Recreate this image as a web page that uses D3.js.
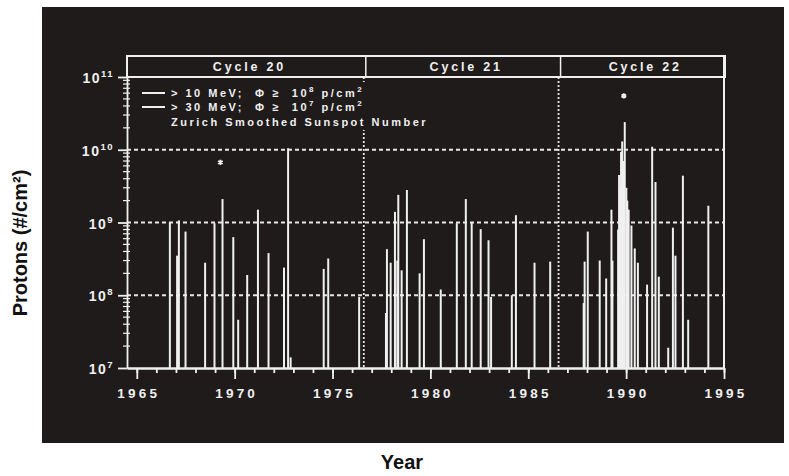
<!DOCTYPE html>
<html>
<head>
<meta charset="utf-8">
<script src="https://cdn.jsdelivr.net/npm/d3@7"></script>
<style>
  body { margin: 0; background: #fff; }
  text { font-family: "Liberation Sans", Arial, sans-serif; font-weight: bold; }
</style>
</head>
<body>
<div id="chart"></div>
<script>
// solar proton events (year, fluence in protons/cm2)
var eventYear = [1966.69, 1967.06, 1967.15, 1967.49, 1968.49, 1968.97, 1969.38, 1969.93, 1970.18, 1970.64,
                 1971.19, 1971.73, 1972.52, 1972.73, 1972.86, 1974.55, 1974.78, 1976.36,
                 1977.73, 1977.78, 1977.97, 1978.19, 1978.31, 1978.36, 1978.53, 1978.80, 1979.45, 1979.67,
                 1980.53, 1981.35, 1981.81, 1982.11, 1982.57, 1982.97, 1983.10, 1984.16, 1984.37, 1985.32, 1986.12,
                 1987.83, 1987.88, 1988.04, 1988.65, 1988.98, 1989.25, 1989.30, 1989.59, 1989.64, 1989.69,
                 1989.74, 1989.80, 1989.86, 1989.93, 1990.01, 1990.06, 1990.13, 1990.27, 1990.44, 1990.60,
                 1991.07, 1991.33, 1991.50, 1991.67, 1992.15, 1992.39, 1992.52, 1992.90, 1993.17, 1994.20];
var eventFluence = [1.0e9, 3.5e8, 1.07e9, 7.5e8, 2.8e8, 9.8e8, 2.1e9, 6.3e8, 4.6e7, 1.9e8,
                    1.5e9, 3.8e8, 2.4e8, 1.05e10, 1.4e7, 2.3e8, 3.2e8, 9.5e7,
                    5.7e7, 4.3e8, 2.8e8, 1.4e9, 3.0e8, 2.4e9, 2.2e8, 2.8e9, 2.0e8, 5.9e8,
                    1.2e8, 9.8e8, 2.1e9, 1.0e9, 8.1e8, 5.7e8, 9.5e7, 1.0e8, 1.26e9, 2.8e8, 2.9e8,
                    7.8e7, 2.9e8, 7.5e8, 3.0e8, 1.7e8, 1.5e9, 3.0e8, 8.0e8, 4.5e9, 2.8e9,
                    9.3e9, 1.3e10, 7.0e9, 2.4e10, 3.0e9, 2.0e9, 1.5e9, 9.1e8, 4.4e8, 2.8e8,
                    1.4e8, 1.1e10, 3.6e9, 1.8e8, 1.9e7, 8.5e8, 3.5e8, 4.4e9, 4.6e7, 1.7e9];

// asterisks above the cycles
var starYear = [1969.27, 1989.88];
var starFluence = [6.7e9, 5.5e10];

// solar cycles
var cycleNames = ["Cycle 20", "Cycle 21", "Cycle 22"];
var cycleBounds = [1964.5, 1976.7, 1986.65, 1995];

var xTicks = [1965, 1970, 1975, 1980, 1985, 1990, 1995];
var yTickExps = [7, 8, 9, 10, 11];
var gridExps = [8, 9, 10];

var W = 789, H = 476;
var ink = "#f0f0f0";

var svg = d3.select("#chart")
    .append("svg")
    .attr("width", W)
    .attr("height", H);

// black panel
svg.append("rect")
    .attr("x", 42).attr("y", 7)
    .attr("width", 742).attr("height", 436)
    .attr("fill", "#1f1b1b");

var x = d3.scaleLinear().domain([1964.5, 1995]).range([127, 724]);
var y = d3.scaleLog().domain([1e7, 1e11]).range([368, 77]);

// horizontal dashed grid
svg.selectAll(".grid")
    .data(gridExps)
    .enter()
    .append("line")
    .attr("x1", x(1964.5)).attr("x2", x(1995))
    .attr("y1", function (d) { return y(Math.pow(10, d)); })
    .attr("y2", function (d) { return y(Math.pow(10, d)); })
    .attr("stroke", "#e6e6e6")
    .attr("stroke-width", 1.8)
    .attr("stroke-dasharray", "4,3");

// dotted cycle boundaries
svg.selectAll(".cyc")
    .data(cycleBounds.slice(1, 3))
    .enter()
    .append("line")
    .attr("x1", function (d) { return x(d) - 2; })
    .attr("x2", function (d) { return x(d) - 2; })
    .attr("y1", y(1e11)).attr("y2", y(1e7))
    .attr("stroke", "#e6e6e6")
    .attr("stroke-width", 1.8)
    .attr("stroke-dasharray", "2,2");

// event bars
svg.selectAll(".ev")
    .data(eventYear)
    .enter()
    .append("line")
    .attr("x1", function (d) { return x(d); })
    .attr("x2", function (d) { return x(d); })
    .attr("y1", y(1e7))
    .attr("y2", function (d, i) { return y(eventFluence[i]); })
    .attr("stroke", ink)
    .attr("stroke-width", 2);

// asterisks
svg.selectAll(".star")
    .data(starYear)
    .enter()
    .append("path")
    .attr("transform", function (d, i) { return "translate(" + x(d) + "," + y(starFluence[i]) + ")"; })
    .attr("d", d3.symbol().type(d3.symbolAsterisk).size(20))
    .attr("stroke", ink)
    .attr("stroke-width", 1.8)
    .attr("fill", "none");

// legend (black backing hides the first dotted line)
svg.append("rect")
    .attr("x", 138).attr("y", 82)
    .attr("width", 312).attr("height", 48)
    .attr("fill", "#1f1b1b");

var legendRows = [
    { y: 93, parts: [["> 10 MeV;  \u03A6 \u2265  10", 0], ["8", 1], [" p/cm", 0], ["2", 1]], line: true },
    { y: 107, parts: [["> 30 MeV;  \u03A6 \u2265  10", 0], ["7", 1], [" p/cm", 0], ["2", 1]], line: true },
    { y: 122, parts: [["Zurich Smoothed Sunspot Number", 0]], line: false }
];
legendRows.forEach(function (r) {
    if (r.line) {
        svg.append("line")
            .attr("x1", 142).attr("x2", 165)
            .attr("y1", r.y).attr("y2", r.y)
            .attr("stroke", ink).attr("stroke-width", 2);
    }
    var t = svg.append("text")
        .attr("x", 171).attr("y", r.y + 4)
        .attr("fill", ink)
        .style("font-size", "11px")
        .style("letter-spacing", "2.5px")
        .style("white-space", "pre");
    var cur = 0;
    r.parts.forEach(function (p) {
        var target = p[1] ? -5 : 0;
        t.append("tspan")
            .attr("dy", target - cur)
            .style("font-size", p[1] ? "8px" : "11px")
            .text(p[0]);
        cur = target;
    });
});

// cycle header
svg.append("rect")
    .attr("x", x(1964.5)).attr("y", 56)
    .attr("width", x(1995) - x(1964.5) + 1).attr("height", y(1e11) - 56)
    .attr("fill", "none")
    .attr("stroke", ink)
    .attr("stroke-width", 2);
svg.selectAll(".cdiv")
    .data(cycleBounds.slice(1, 3))
    .enter()
    .append("line")
    .attr("x1", function (d) { return x(d); })
    .attr("x2", function (d) { return x(d); })
    .attr("y1", 56).attr("y2", y(1e11))
    .attr("stroke", ink).attr("stroke-width", 1.5);
svg.selectAll(".cname")
    .data(cycleNames)
    .enter()
    .append("text")
    .attr("x", function (d, i) { return (x(cycleBounds[i]) + x(cycleBounds[i + 1])) / 2 + 3; })
    .attr("y", 71)
    .attr("text-anchor", "middle")
    .attr("fill", ink)
    .style("font-size", "12.5px")
    .style("letter-spacing", "2.8px")
    .text(function (d) { return d; });

// X axis
var gx = svg.append("g")
    .attr("transform", "translate(0," + y(1e7) + ")")
    .call(d3.axisBottom(x).tickValues(d3.range(1965, 1996)).tickSize(5).tickFormat("").tickSizeOuter(0));
gx.append("g")
    .call(d3.axisBottom(x).tickValues(xTicks).tickSize(11).tickFormat(d3.format("d")).tickSizeOuter(0));
gx.selectAll("path, line").attr("stroke", ink).attr("stroke-width", 1.8);
gx.selectAll("text")
    .attr("fill", ink)
    .attr("dx", "1.5px")
    .attr("dy", "1.2em")
    .style("font-size", "13.5px")
    .style("letter-spacing", "3.2px")
    .style("font-family", "'Liberation Sans', Arial, sans-serif")
    .style("font-weight", "bold");

// Y axis
var minorY = [];
yTickExps.slice(0, 4).forEach(function (e) {
    d3.range(2, 10).forEach(function (m) { minorY.push(m * Math.pow(10, e)); });
});
var gy = svg.append("g")
    .attr("transform", "translate(" + x(1964.5) + ",0)")
    .call(d3.axisLeft(y).tickValues(yTickExps.map(function (e) { return Math.pow(10, e); }))
        .tickSize(9).tickFormat("").tickSizeOuter(0));
gy.selectAll("path, line").attr("stroke", ink).attr("stroke-width", 1.8);
svg.selectAll(".ymin")
    .data(minorY)
    .enter()
    .append("line")
    .attr("x1", x(1964.5) - 4).attr("x2", x(1964.5) + 3)
    .attr("y1", function (d) { return y(d); })
    .attr("y2", function (d) { return y(d); })
    .attr("stroke", ink).attr("stroke-width", 1.2);

// right frame line
svg.append("line")
    .attr("x1", x(1995)).attr("x2", x(1995))
    .attr("y1", 56).attr("y2", y(1e7))
    .attr("stroke", ink).attr("stroke-width", 2);

yTickExps.forEach(function (e) {
    var t = svg.append("text")
        .attr("x", 114).attr("y", y(Math.pow(10, e)) + 6)
        .attr("text-anchor", "end")
        .attr("fill", ink)
        .style("font-size", "14px")
        .style("letter-spacing", "1.5px");
    t.append("tspan").text("10");
    t.append("tspan").attr("dy", -6).style("font-size", "9.5px").text(String(e));
});

// axis titles
svg.append("text")
    .attr("transform", "translate(27,243) rotate(-90)")
    .attr("text-anchor", "middle")
    .attr("fill", "#111")
    .style("font-size", "20px")
    .text("Protons (#/cm\u00B2)");

svg.append("text")
    .attr("x", 402).attr("y", 469)
    .attr("text-anchor", "middle")
    .attr("fill", "#111")
    .style("font-size", "20px")
    .text("Year");
</script>
</body>
</html>
